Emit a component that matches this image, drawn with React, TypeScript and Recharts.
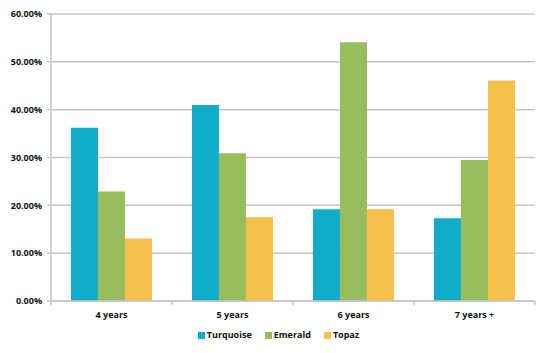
import { BarChart, Bar, XAxis, YAxis, CartesianGrid, Legend } from "recharts";

const categories = ["4 years", "5 years", "6 years", "7 years +"];
const seriesNames = ["Turquoise", "Emerald", "Topaz"];
const seriesColors = ["#10acc9", "#98bd5c", "#f7bf4b"];
const turquoise = [36.2, 41.0, 19.2, 17.3];
const emerald = [22.9, 30.9, 54.1, 29.5];
const topaz = [13.05, 17.5, 19.2, 46.1];
const yTicks = [0, 10, 20, 30, 40, 50, 60];

const data = categories.map((name, i) => ({
  name,
  Turquoise: turquoise[i],
  Emerald: emerald[i],
  Topaz: topaz[i],
}));

const FONT = "'Open Sans', sans-serif";
const GRID = "#c6c6c6";

const XTick = (props: any) => {
  const { x, y, payload, index } = props;
  const off = payload.offset ?? 0;
  return (
    <g>
      <line x1={x - off} x2={x - off} y1={y - 8} y2={y - 4} stroke={GRID} strokeWidth={1.5} />
      {index === categories.length - 1 && (
        <line x1={x + off} x2={x + off} y1={y - 8} y2={y - 4} stroke={GRID} strokeWidth={1.5} />
      )}
      <text x={x} y={y + 9} textAnchor="middle" fontFamily={FONT} fontWeight={700} fontSize={9} fill="#111">
        {payload.value}
      </text>
    </g>
  );
};

const LegendContent = () => (
  <div style={{ display: "flex", justifyContent: "center", gap: 13, paddingLeft: 22, fontFamily: FONT, fontWeight: 700, fontSize: 9, color: "#111", lineHeight: "12px" }}>
    {seriesNames.map((name, i) => (
      <span key={name} style={{ display: "flex", alignItems: "center", gap: 2 }}>
        <span style={{ width: 7, height: 7, background: seriesColors[i], display: "inline-block" }} />
        {name}
      </span>
    ))}
  </div>
);

const App = () => {
  return (
    <div style={{ position: "absolute", left: 0, top: 0 }}>
      <BarChart
        width={548}
        height={353}
        data={data}
        margin={{ top: 14, right: 13, left: 0, bottom: 12 }}
        barCategoryGap="16.5%"
        barGap={0}
      >
        <CartesianGrid vertical={false} stroke={GRID} strokeWidth={1.5} />
        <XAxis
          dataKey="name"
          axisLine={{ stroke: GRID, strokeWidth: 1.5 }}
          tickLine={false}
          tick={<XTick />}
          height={28}
          interval={0}
        />
        <YAxis
          width={51}
          domain={[0, 60]}
          ticks={yTicks}
          interval={0}
          axisLine={{ stroke: GRID, strokeWidth: 1.5 }}
          tickLine={{ stroke: GRID, strokeWidth: 1.5 }}
          tickSize={4}
          tickMargin={5}
          tickFormatter={(v: number) => `${v.toFixed(2)}%`}
          tick={{ fontFamily: FONT, fontWeight: 700, fontSize: 9, fill: "#111" }}
        />
        <Legend verticalAlign="bottom" height={12} content={<LegendContent />} />
        {seriesNames.map((name, i) => (
          <Bar key={name} dataKey={name} fill={seriesColors[i]} isAnimationActive={false} />
        ))}
      </BarChart>
    </div>
  );
};

export default App;
